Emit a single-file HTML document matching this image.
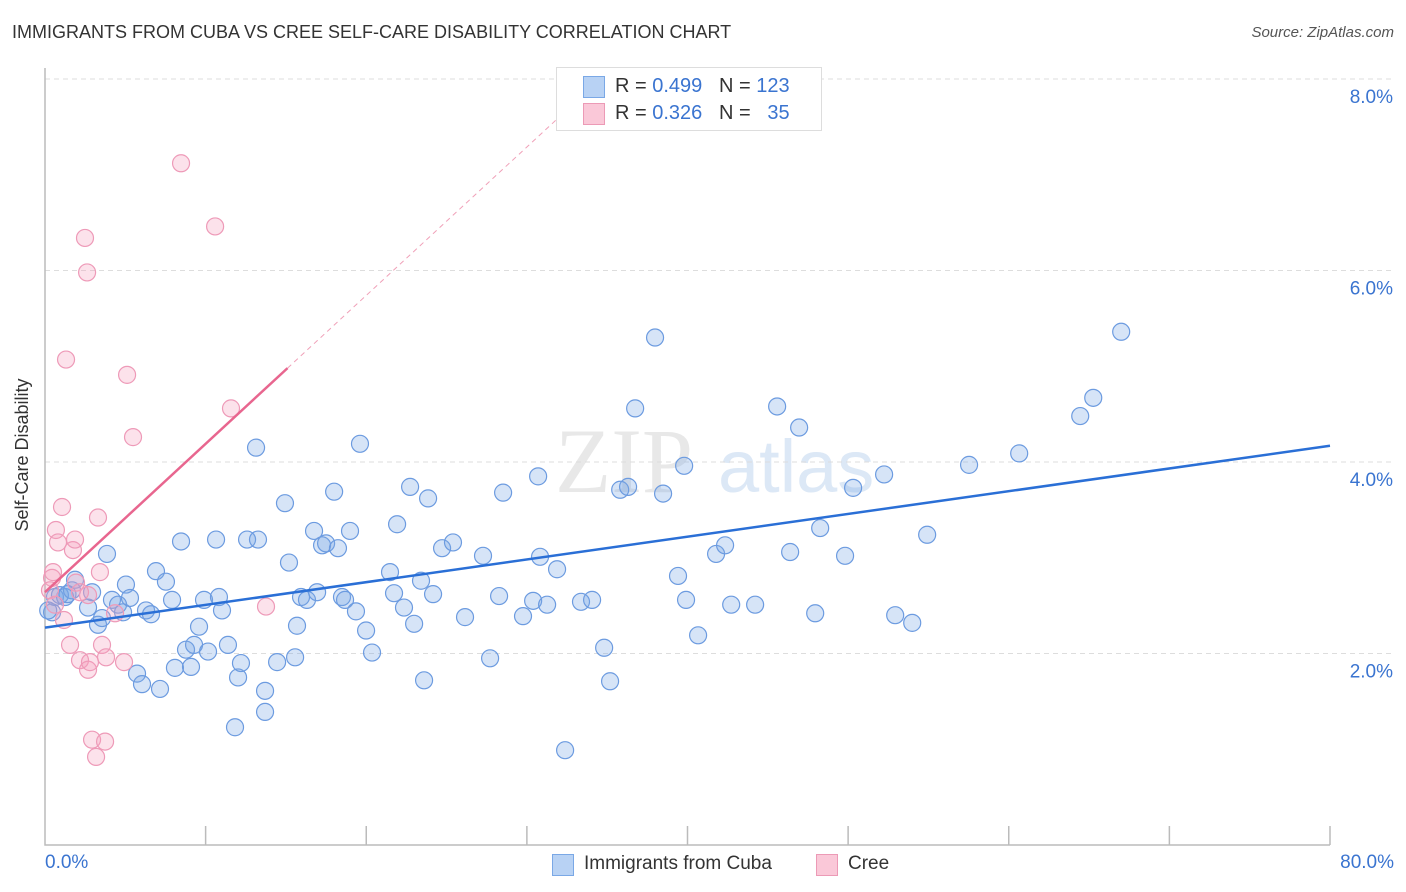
<!DOCTYPE html>
<html><head><meta charset="utf-8"><style>
body{margin:0;background:#fff;font-family:"Liberation Sans",sans-serif;}
#wrap{position:relative;width:1406px;height:892px;overflow:hidden;}
.t{position:absolute;white-space:nowrap;}
</style></head><body>
<div id="wrap">
<div class="t" style="left:12px;top:22px;font-size:18px;color:#333;">IMMIGRANTS FROM CUBA VS CREE SELF-CARE DISABILITY CORRELATION CHART</div>
<div class="t" style="right:12px;top:24px;font-size:15px;color:#555;font-style:italic;">Source: ZipAtlas.com</div>
<svg id="svg" width="1406" height="892" style="position:absolute;left:0;top:0">
<text x="555" y="492" font-size="92" fill="#e8e8e8" font-family="Liberation Serif">ZIP</text>
<text x="718" y="492" font-size="74" fill="#dce8f6" font-family="Liberation Sans">atlas</text>
<g id="grid"></g><g id="pts"></g><g id="lines"></g>
<text x="28" y="455" font-size="18" fill="#333" transform="rotate(-90 28 455)" text-anchor="middle">Self-Care Disability</text>
</svg>
<div style="position:absolute;left:556px;top:67px;width:264px;height:62px;border:1px solid #ddd;background:#fff;font-size:20px;">
 <div style="position:absolute;left:26px;top:8px;width:20px;height:20px;background:#b8d2f4;border:1px solid #7aa8e6;"></div>
 <div class="t" style="left:58px;top:7px;color:#333;">R = <span style="color:#3a74d0">0.499</span>&nbsp;&nbsp;&nbsp;N = <span style="color:#3a74d0">123</span></div>
 <div style="position:absolute;left:26px;top:35px;width:20px;height:20px;background:#fac8d8;border:1px solid #ec9ab6;"></div>
 <div class="t" style="left:58px;top:34px;color:#333;">R = <span style="color:#3a74d0">0.326</span>&nbsp;&nbsp;&nbsp;N = &nbsp;&nbsp;<span style="color:#3a74d0">35</span></div>
</div>
<div class="t" style="left:45px;top:852px;font-size:19px;color:#3a74d0;">0.0%</div>
<div class="t" style="right:12px;top:852px;font-size:19px;color:#3a74d0;">80.0%</div>
<div>
 <div style="position:absolute;left:552px;top:854px;width:20px;height:20px;background:#b8d2f4;border:1px solid #7aa8e6;"></div>
 <div class="t" style="left:584px;top:853px;font-size:19px;color:#333;">Immigrants from Cuba</div>
 <div style="position:absolute;left:816px;top:854px;width:20px;height:20px;background:#fac8d8;border:1px solid #ec9ab6;"></div>
 <div class="t" style="left:848px;top:853px;font-size:19px;color:#333;">Cree</div>
</div>
</div>
<script>
const yTicks=[2,4,6,8];
const yTickLabels=["2.0%","4.0%","6.0%","8.0%"];
const xTicks=[0,10,20,30,40,50,60,70,80];
const cubaX=[0.44,0.62,0.93,1.25,1.68,1.87,2.68,2.93,3.30,3.55,3.86,4.17,4.55,4.86,5.04,5.29,5.73,6.04,6.29,6.60,6.91,7.16,7.53,7.91,8.09,8.47,8.78,9.09,9.28,9.59,9.90,10.15,10.65,10.83,11.02,11.39,12.02,12.20,11.83,12.58,13.14,13.26,13.70,13.70,14.45,14.94,15.19,15.57,15.69,15.94,16.31,16.75,16.94,17.25,17.50,18.0,18.24,18.49,18.68,18.99,19.36,19.61,19.99,20.36,21.48,21.73,21.92,22.35,22.73,22.98,23.41,23.60,23.85,24.16,24.72,25.40,26.15,27.27,27.71,28.27,28.52,29.76,30.39,30.70,30.82,31.26,31.88,32.38,33.37,34.06,34.81,35.18,35.81,36.30,36.74,37.98,38.48,39.41,39.79,39.91,40.66,41.78,42.34,42.72,44.21,45.58,46.39,46.95,47.95,48.26,49.81,50.31,52.24,52.93,53.99,54.92,57.53,60.65,64.45,65.26,67.0,0.2,1.4];
const cubaY=[2.43,2.59,2.61,2.59,2.66,2.77,2.48,2.64,2.30,2.37,3.04,2.56,2.51,2.43,2.72,2.58,1.79,1.68,2.45,2.41,2.86,1.63,2.75,2.56,1.85,3.17,2.04,1.86,2.09,2.28,2.56,2.02,3.19,2.59,2.45,2.09,1.75,1.90,1.23,3.19,4.15,3.19,1.61,1.39,1.91,3.57,2.95,1.96,2.29,2.59,2.56,3.28,2.64,3.13,3.15,3.69,3.10,2.59,2.56,3.28,2.44,4.19,2.24,2.01,2.85,2.63,3.35,2.48,3.74,2.31,2.76,1.72,3.62,2.62,3.10,3.16,2.38,3.02,1.95,2.60,3.68,2.39,2.55,3.85,3.01,2.51,2.88,0.99,2.54,2.56,2.06,1.71,3.71,3.74,4.56,5.30,3.67,2.81,3.96,2.56,2.19,3.04,3.13,2.51,2.51,4.58,3.06,4.36,2.42,3.31,3.02,3.73,3.87,2.40,2.32,3.24,3.97,4.09,4.48,4.67,5.36,2.45,2.62];
const creeX=[0.44,0.31,0.5,0.68,0.81,1.06,1.18,1.31,1.56,1.74,1.87,1.93,2.18,2.49,2.62,2.68,2.80,2.93,3.18,3.30,3.42,3.55,3.74,3.80,4.36,4.92,5.11,5.48,8.47,10.59,11.58,13.76,2.68,2.18,0.62];
const creeY=[2.79,2.66,2.85,3.29,3.16,3.53,2.35,5.07,2.09,3.08,3.19,2.74,1.93,6.34,5.98,1.83,1.91,1.10,0.92,3.42,2.85,2.09,1.08,1.96,2.42,1.91,4.91,4.26,7.12,6.46,4.56,2.49,2.61,2.64,2.51];
const cubaFit=[2.27,0.02375]; // intercept, slope
const creeFit=[2.64,0.155];
const NS='http://www.w3.org/2000/svg';
const X=v=>45+v*(1285/80), Y=v=>845-v*95.75;
function mk(t,a,p){const e=document.createElementNS(NS,t);for(const k in a)e.setAttribute(k,a[k]);p.appendChild(e);return e;}
const g=document.getElementById('grid'),P=document.getElementById('pts'),L=document.getElementById('lines');
yTicks.forEach((v,i)=>{
 const l=mk('line',{x1:45,x2:1393,y1:Y(v),y2:Y(v),stroke:'#ddd','stroke-dasharray':'5,4'},g);
 
 
 const t=mk('text',{x:1393,y:Y(v)+24,'text-anchor':'end','font-size':19,fill:'#3a74d0'},g);
 t.textContent=yTickLabels[i];
 
 
});
const ax=mk('path',{d:`M45 68V845H1330`,fill:'none',stroke:'#bbb','stroke-width':1.5},g);


xTicks.slice(1).forEach(v=>{
 const l=mk('line',{x1:X(v),x2:X(v),y1:826,y2:845,stroke:'#bbb','stroke-width':1.5},g);
 
 
});
cubaX.forEach((x,i)=>{
 const c=mk('circle',{cx:X(x),cy:Y(cubaY[i]),r:8.5,fill:'rgba(120,165,230,0.3)',stroke:'#6c9be0','stroke-width':1.2},P);
 
 
});
creeX.forEach((x,i)=>{
 const c=mk('circle',{cx:X(x),cy:Y(creeY[i]),r:8.5,fill:'rgba(245,160,190,0.3)',stroke:'#ee9ab8','stroke-width':1.2},P);
 
 
});
const bl=mk('line',{x1:X(0),y1:Y(cubaFit[0]),x2:X(80),y2:Y(cubaFit[0]+80*cubaFit[1]),stroke:'#2a6fd6','stroke-width':2.5},L);


const pl=mk('line',{x1:X(0),y1:Y(creeFit[0]),x2:X(15.1),y2:Y(creeFit[0]+15.1*creeFit[1]),stroke:'#e8668f','stroke-width':2.5},L);


const pd=mk('line',{x1:X(15.1),y1:Y(creeFit[0]+15.1*creeFit[1]),x2:X(32.5),y2:Y(creeFit[0]+32.5*creeFit[1]),stroke:'#f0a0b8','stroke-width':1,'stroke-dasharray':'5,4'},L);


</script>
</body></html>
